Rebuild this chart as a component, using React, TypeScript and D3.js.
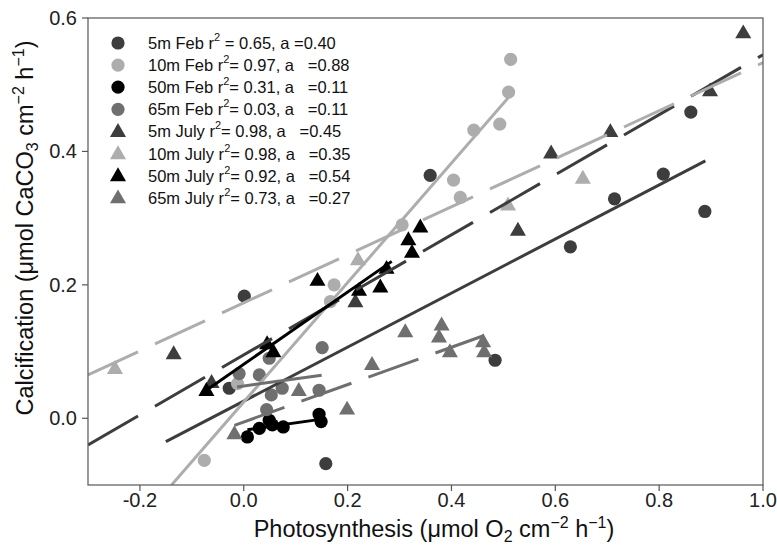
import React from "react";
import * as d3 from "d3";

// ---------- data ----------
const seriesNames = ["5m Feb", "10m Feb", "50m Feb", "65m Feb", "5m July", "10m July", "50m July", "65m July"];
const seriesR2 = ["0.65", "0.97", "0.31", "0.03", "0.98", "0.98", "0.92", "0.73"];
const seriesA = ["0.40", "0.88", "0.11", "0.11", "0.45", "0.35", "0.54", "0.27"];

const feb5X = [0.001, 0.359, 0.629, 0.714, 0.808, 0.861, 0.888, 0.484, 0.158, -0.028];
const feb5Y = [0.183, 0.364, 0.257, 0.329, 0.366, 0.459, 0.31, 0.087, -0.068, 0.045];
const feb10X = [0.514, 0.51, 0.493, 0.443, 0.404, 0.417, 0.305, 0.174, 0.167, -0.012, -0.076];
const feb10Y = [0.538, 0.489, 0.441, 0.432, 0.357, 0.331, 0.29, 0.2, 0.175, 0.052, -0.063];
const feb50X = [0.007, 0.03, 0.049, 0.055, 0.076, 0.145, 0.149];
const feb50Y = [-0.028, -0.015, -0.003, -0.01, -0.013, 0.006, -0.005];
const feb65X = [0.151, 0.049, -0.009, 0.03, 0.074, 0.053, 0.145, 0.044];
const feb65Y = [0.106, 0.09, 0.067, 0.065, 0.045, 0.035, 0.042, 0.013];
const jul5X = [-0.135, -0.062, 0.215, 0.528, 0.592, 0.706, 0.898, 0.962];
const jul5Y = [0.097, 0.054, 0.175, 0.282, 0.398, 0.43, 0.491, 0.578];
const jul10X = [-0.248, 0.22, 0.509, 0.653];
const jul10Y = [0.075, 0.238, 0.32, 0.36];
const jul50X = [-0.072, 0.045, 0.057, 0.142, 0.222, 0.263, 0.275, 0.317, 0.324, 0.34];
const jul50Y = [0.042, 0.112, 0.1, 0.207, 0.192, 0.197, 0.225, 0.268, 0.249, 0.287];
const jul65X = [-0.018, 0.106, 0.199, 0.247, 0.311, 0.381, 0.376, 0.397, 0.461, 0.463];
const jul65Y = [-0.023, 0.042, 0.014, 0.081, 0.13, 0.14, 0.122, 0.1, 0.115, 0.1];

// fitted lines: y = intercept + slope * x, drawn from x0 to x1
const lineSlope = [0.405, 0.895, 0.11, 0.107, 0.45, 0.36, 0.541, 0.28];
const lineIntercept = [0.0257, 0.0245, -0.0178, 0.0484, 0.095, 0.173, 0.081, -0.0055];
const lineX0 = [-0.15, -0.139, 0.007, -0.013, -0.3, -0.3, -0.072, -0.018];
const lineX1 = [0.889, 0.517, 0.147, 0.15, 1.0, 1.0, 0.285, 0.463];

const xTicks = [-0.2, 0.0, 0.2, 0.4, 0.6, 0.8, 1.0];
const yTicks = [0.0, 0.2, 0.4, 0.6];

// ---------- styles ----------
const xs = [feb5X, feb10X, feb50X, feb65X, jul5X, jul10X, jul50X, jul65X];
const ys = [feb5Y, feb10Y, feb50Y, feb65Y, jul5Y, jul10Y, jul50Y, jul65Y];
const colors = ["#3d3d3d", "#adadad", "#000000", "#6f6f6f", "#3d3d3d", "#adadad", "#000000", "#6f6f6f"];
const shapes = ["circle", "circle", "circle", "circle", "tri", "tri", "tri", "tri"];
const dashed = [false, false, false, false, true, true, false, true];

const W = 777, H = 550;
const L = 88, R = 763, T = 18, B = 485;
const FONT = "'Liberation Sans', Arial, Helvetica, sans-serif";

const xScale = d3.scaleLinear().domain([-0.3, 1.0]).range([L, R]);
const yScale = d3.scaleLinear().domain([-0.1, 0.6]).range([B, T]);

function Marker({ shape, cx, cy, fill }: { shape: string; cx: number; cy: number; fill: string }) {
  if (shape === "circle") return <circle cx={cx} cy={cy} r={6.6} fill={fill} />;
  const sym = d3.symbol().type(d3.symbolTriangle).size(112)();
  return <path d={sym || ""} transform={`translate(${cx},${cy + 1})`} fill={fill} />;
}

export default function App() {
  const lineGen = d3.line<[number, number]>().x((d) => xScale(d[0])).y((d) => yScale(d[1]));

  return (
    <svg width={W} height={H} style={{ position: "absolute", left: 0, top: 0, background: "#fff" }}>
      <defs>
        <clipPath id="plot">
          <rect x={L} y={T} width={R - L} height={B - T} />
        </clipPath>
      </defs>

      {/* series: points then fit lines */}
      <g clipPath="url(#plot)">
        {xs.map((sx, si) => (
          <g key={"p" + si}>
            {sx.map((x, i) => (
              <Marker key={i} shape={shapes[si]} cx={xScale(x)} cy={yScale(ys[si][i])} fill={colors[si]} />
            ))}
          </g>
        ))}
        {lineSlope.map((m, si) => {
          const pts: [number, number][] = [
            [lineX0[si], lineIntercept[si] + m * lineX0[si]],
            [lineX1[si], lineIntercept[si] + m * lineX1[si]],
          ];
          const pxSlope = (m * (B - T) / 0.7) / ((R - L) / 1.3);
          const f = Math.sqrt(1 + pxSlope * pxSlope);
          return (
            <path
              key={"l" + si}
              d={lineGen(pts) || ""}
              stroke={colors[si]}
              strokeWidth={3}
              fill="none"
              strokeDasharray={dashed[si] ? `${50 * f} ${17 * f}` : undefined}
            />
          );
        })}
      </g>

      {/* frame */}
      <rect x={L} y={T} width={R - L} height={B - T} fill="none" stroke="#555" strokeWidth={1.2} />

      {/* x axis */}
      {xTicks.map((t) => (
        <g key={"xt" + t}>
          <line x1={xScale(t)} x2={xScale(t)} y1={B} y2={B + 6} stroke="#555" strokeWidth={1.2} />
          <text x={xScale(t)} y={B + 22} textAnchor="middle" fontFamily={FONT} fontSize={20} fill="#222">
            {t.toFixed(1)}
          </text>
        </g>
      ))}
      {/* y axis */}
      {yTicks.map((t) => (
        <g key={"yt" + t}>
          <line x1={L - 6} x2={L} y1={yScale(t)} y2={yScale(t)} stroke="#555" strokeWidth={1.2} />
          <text x={L - 11} y={yScale(t) + 7} textAnchor="end" fontFamily={FONT} fontSize={20} fill="#222">
            {t.toFixed(1)}
          </text>
        </g>
      ))}

      {/* axis titles */}
      <text x={434} y={537} textAnchor="middle" fontFamily={FONT} fontSize={23.5} fill="#111">
        Photosynthesis (μmol O<tspan fontSize={16} dy={5}>2</tspan>
        <tspan dy={-5}> cm</tspan>
        <tspan fontSize={16} dy={-9}>−2</tspan>
        <tspan dy={9}> h</tspan>
        <tspan fontSize={16} dy={-9}>−1</tspan>
        <tspan dy={9}>)</tspan>
      </text>
      <text
        transform={`translate(33,${228}) rotate(-90)`}
        textAnchor="middle"
        fontFamily={FONT}
        fontSize={23.5}
        fill="#111"
      >
        Calcification (μmol CaCO<tspan fontSize={16} dy={5}>3</tspan>
        <tspan dy={-5}> cm</tspan>
        <tspan fontSize={16} dy={-9}>−2</tspan>
        <tspan dy={9}> h</tspan>
        <tspan fontSize={16} dy={-9}>−1</tspan>
        <tspan dy={9}>)</tspan>
      </text>

      {/* legend */}
      {seriesNames.map((name, i) => {
        const cy = 43 + i * 22.1;
        const eq = i === 0 ? ` = ${seriesR2[i]}, a =${seriesA[i]}` : `= ${seriesR2[i]}, a   =${seriesA[i]}`;
        return (
          <g key={"lg" + i}>
            <Marker shape={shapes[i]} cx={118} cy={cy} fill={colors[i]} />
            <text x={148} y={cy + 6} fontFamily={FONT} fontSize={16.5} fill="#111" style={{ whiteSpace: "pre" }}>
              {name} r<tspan fontSize={11} dy={-8}>2</tspan>
              <tspan dy={8}>{eq}</tspan>
            </text>
          </g>
        );
      })}
    </svg>
  );
}
